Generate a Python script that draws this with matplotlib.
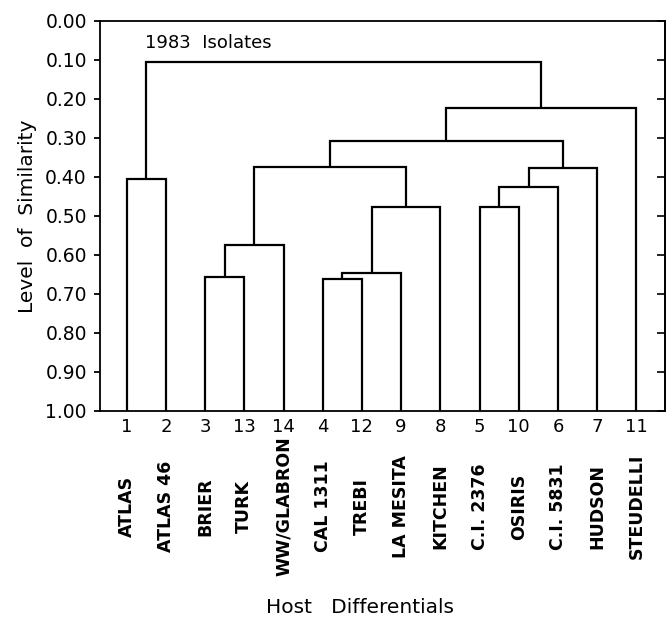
import matplotlib.pyplot as plt
import matplotlib.transforms as mtransforms

# leaves in the order they sit along the x axis
leaf_ids = ['1', '2', '3', '13', '14', '4', '12', '9', '8', '5', '10', '6', '7', '11']
leaf_names = ['ATLAS', 'ATLAS 46', 'BRIER', 'TURK', 'WW/GLABRON', 'CAL 1311', 'TREBI',
              'LA MESITA', 'KITCHEN', 'C.I. 2376', 'OSIRIS', 'C.I. 5831', 'HUDSON', 'STEUDELLI']

# merges: left child, right child, level of similarity (clusters named c0, c1, ...)
merge_left = ['1', '3', 'c1', '4', 'c3', 'c4', 'c2', '5', 'c7', 'c8', 'c6', 'c10', 'c0']
merge_right = ['2', '13', '14', '12', '9', '8', 'c5', '10', '6', '7', 'c9', '11', 'c11']
merge_level = [0.405, 0.656, 0.575, 0.661, 0.646, 0.477, 0.375, 0.477, 0.426, 0.377,
               0.307, 0.223, 0.105]

yticks = [0.0, 0.1, 0.2, 0.3, 0.4, 0.5, 0.6, 0.7, 0.8, 0.9, 1.0]

fig = plt.figure(figsize=(6.69, 6.23), dpi=100)
ax = fig.add_axes([0.1495, 0.3403, 0.8445, 0.626])

# position and height of each node
pos = {}
lev = {}
for i, lid in enumerate(leaf_ids):
    pos[lid] = i
    lev[lid] = 1.0

lw = 1.6
for k in range(len(merge_level)):
    a, b, h = merge_left[k], merge_right[k], merge_level[k]
    ax.plot([pos[a], pos[a], pos[b], pos[b]], [lev[a], h, h, lev[b]],
            color='black', lw=lw, solid_capstyle='butt', solid_joinstyle='miter')
    name = 'c%d' % k
    pos[name] = (pos[a] + pos[b]) / 2
    lev[name] = h

ax.set_xlim(-0.68, 13.73)
ax.set_ylim(1.0, 0.0)

ax.set_yticks(yticks)
ax.set_yticklabels(['%.2f' % t for t in yticks], fontsize=13.5)
ax.tick_params(axis='y', direction='out', length=4.5, width=1.3, pad=5)

ax.set_xticks(range(len(leaf_ids)))
ax.set_xticklabels(leaf_ids, fontsize=13)
ax.tick_params(axis='x', length=0, pad=5)

sec = ax.secondary_yaxis('right')
sec.set_yticks(yticks)
sec.tick_params(direction='in', length=6, width=1.2, labelright=False)
sec.spines['right'].set_linewidth(1.3)

for s in ax.spines.values():
    s.set_linewidth(1.3)

# host names under the numbers
trans = mtransforms.blended_transform_factory(ax.transData, ax.transAxes)
for i, nm in enumerate(leaf_names):
    ax.text(i, -0.245, nm, rotation=90, ha='center', va='center',
            fontsize=12.5, fontweight='bold', transform=trans)

ax.text(0.47, 0.056, '1983  Isolates', fontsize=13, ha='left', va='center')

ax.set_ylabel('Level  of  Similarity', fontsize=14.5, labelpad=6)
fig.text(0.538, 0.025, 'Host   Differentials', fontsize=14.5, ha='center', va='center')

fig.savefig('out.png', dpi=100)
